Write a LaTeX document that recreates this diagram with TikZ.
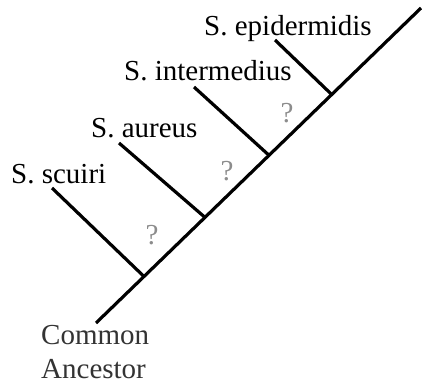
\documentclass[tikz,border=0pt]{standalone}
\usepackage{fontspec}
\setmainfont{Liberation Serif}
\begin{document}
\begin{tikzpicture}[x=1pt,y=-1pt,
  branch/.style={line width=3.2pt, black},
  taxon/.style={anchor=base west, inner sep=0pt, font=\fontsize{29}{33}\selectfont, text=black},
  qmark/.style={anchor=center, inner sep=0pt, font=\fontsize{29}{33}\selectfont, text=black!45},
  anc/.style={anchor=base west, inner sep=0pt, font=\fontsize{29}{33}\selectfont, text=black!80}]
\useasboundingbox (0,0) rectangle (422,383);
% main stem
\coordinate (root) at (96,323);
\coordinate (top) at (421,8);
\coordinate (b1) at (144,276.5);
\coordinate (b2) at (205,217.4);
\coordinate (b3) at (269,155.3);
\coordinate (b4) at (332,94.8);
\coordinate (t1) at (52,188);
\coordinate (t2) at (119,143);
\coordinate (t3) at (194,87);
\coordinate (t4) at (275,40);
\draw[branch] (root) -- (top);
\draw[branch] (t1) -- (b1);
\draw[branch] (t2) -- (b2);
\draw[branch] (t3) -- (b3);
\draw[branch] (t4) -- (b4);
% labels
\node[taxon] (l1) at (11,183) {S. scuiri};
\node[taxon] (l2) at (91,137) {S. aureus};
\node[taxon] (l3) at (124,80) {S. intermedius};
\node[taxon] (l4) at (204,35) {S. epidermidis};
\node[qmark] (q1) at (152,235) {?};
\node[qmark] (q2) at (227,171) {?};
\node[qmark] (q3) at (287,113) {?};
\node[anc] (c1) at (41,344) {Common};
\node[anc] (c2) at (41,378) {Ancestor};
\end{tikzpicture}
\end{document}
